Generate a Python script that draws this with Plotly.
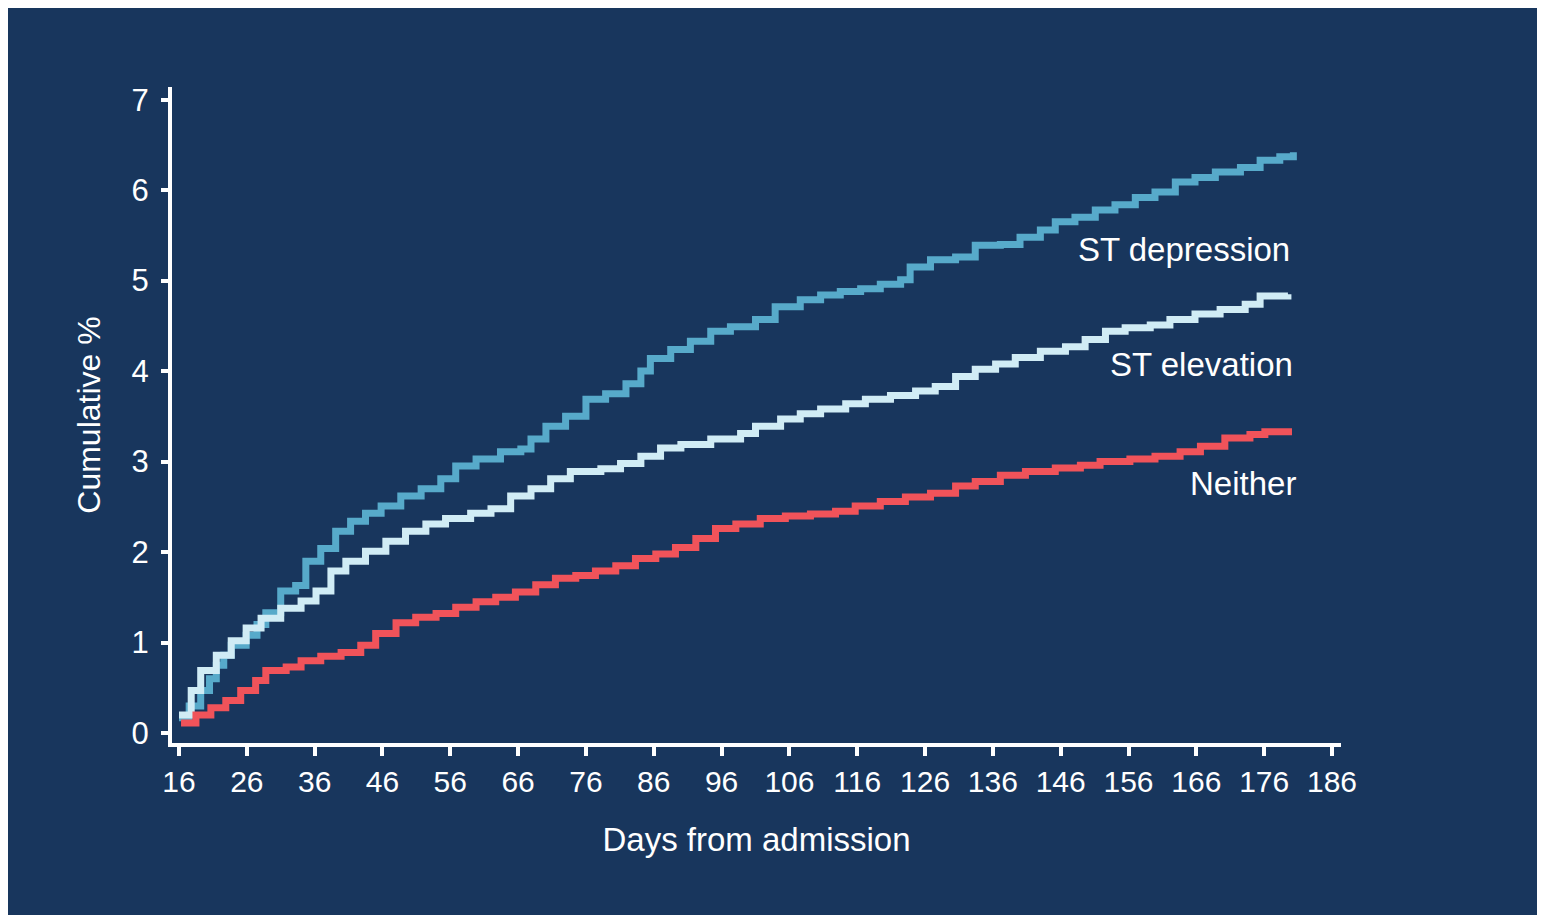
import plotly.graph_objects as go

# ---- data ----
dep_days = [16, 17.5, 19.2, 20.5, 21.5, 22.6, 23.7, 25.9, 27.5, 28.8, 31, 33.2, 34.7, 36.9, 39.1, 41.3, 43.5, 45.8,
            48.7, 51.7, 54.6, 56.8, 59.8, 63.4, 66.4, 67.9, 70.1, 73.0, 76, 78.9, 81.9, 84.1, 85.5, 88.5,
            91.4, 94.4, 97.3, 101, 103.9, 107.6, 110.6, 113.5, 116.5, 119.4, 122.4, 123.8, 126.8, 130.5,
            133.4, 137.1, 140, 143, 145.2, 148.1, 151.1, 154, 157, 159.9, 162.9, 165.8, 168.8, 172.5,
            175.4, 178.3, 180.3]
dep_vals = [0.17, 0.3, 0.47, 0.6, 0.75, 0.86, 0.97, 1.08, 1.2, 1.33, 1.57, 1.63, 1.9, 2.04, 2.23, 2.34, 2.43, 2.51,
            2.62, 2.70, 2.81, 2.95, 3.03, 3.11, 3.14, 3.25, 3.39, 3.50, 3.69, 3.75, 3.86, 4.0, 4.14, 4.24,
            4.33, 4.44, 4.49, 4.57, 4.71, 4.79, 4.84, 4.88, 4.91, 4.96, 5.01, 5.15, 5.23, 5.26,
            5.39, 5.40, 5.48, 5.56, 5.65, 5.70, 5.78, 5.84, 5.92, 5.98, 6.09, 6.14, 6.20, 6.25,
            6.33, 6.37, 6.42]

elev_days = [16, 17.8, 19.2, 21.5, 23.7, 25.9, 28.1, 31, 34, 36.2, 38.4, 40.6, 43.5, 46.5, 49.4, 52.4, 55.3,
             59, 62, 64.9, 67.9, 70.8, 73.7, 78.2, 81.1, 84.1, 87, 90, 94.4, 98.8, 101, 104.7, 107.6,
             110.6, 114.3, 117.2, 120.9, 124.6, 127.5, 130.5, 133.4, 136.4, 139.3, 143, 146.7, 149.6,
             152.6, 155.5, 159.2, 162.1, 165.8, 169.5, 173.2, 175.4, 179.5]
elev_vals = [0.2, 0.47, 0.69, 0.86, 1.02, 1.16, 1.27, 1.38, 1.46, 1.57, 1.79, 1.90, 2.01, 2.12, 2.23, 2.31, 2.37,
             2.43, 2.48, 2.62, 2.70, 2.81, 2.89, 2.92, 2.98, 3.06, 3.15, 3.19, 3.25, 3.31, 3.39, 3.47, 3.53,
             3.58, 3.64, 3.69, 3.73, 3.78, 3.83, 3.94, 4.02, 4.08, 4.15, 4.22, 4.27, 4.35,
             4.44, 4.48, 4.51, 4.57, 4.63, 4.68, 4.74, 4.83, 4.85]

neither_days = [16.3, 18.5, 20.7, 22.9, 25.1, 27.3, 28.8, 31.8, 34, 36.9, 39.9, 42.8, 45, 48, 50.9, 53.9,
                56.8, 59.8, 62.7, 65.6, 68.6, 71.5, 74.5, 77.4, 80.4, 83.3, 86.3, 89.2, 92.2, 95.1, 98.1,
                101.7, 105.4, 109.1, 112.8, 115.7, 119.4, 123.1, 126.8, 130.5, 133.4, 137.1, 140.8, 145.2,
                148.9, 151.8, 156.2, 159.9, 163.6, 166.6, 170.2, 173.9, 176.1, 180.1]
neither_vals = [0.11, 0.2, 0.28, 0.36, 0.47, 0.58, 0.69, 0.73, 0.80, 0.85, 0.89, 0.97, 1.10, 1.22, 1.28, 1.32,
                1.39, 1.45, 1.50, 1.56, 1.64, 1.71, 1.74, 1.79, 1.85, 1.93, 1.98, 2.05, 2.15, 2.26, 2.31,
                2.37, 2.40, 2.42, 2.45, 2.51, 2.56, 2.61, 2.65, 2.73, 2.78, 2.85, 2.89, 2.93,
                2.96, 3.00, 3.03, 3.06, 3.11, 3.17, 3.26, 3.30, 3.33, 3.33]

x_ticks = list(range(16, 187, 10))
y_ticks = [0, 1, 2, 3, 4, 5, 6, 7]

labels = ["ST depression", "ST elevation", "Neither"]
label_pos = [(180.1, 5.34), (180.6, 4.07), (181.0, 2.76)]

# ---- style ----
NAVY = "rgb(24,54,93)"
FONT = "Liberation Sans, Arial, sans-serif"
colors = ["#57aaca", "#d0ecf5", "#f0535a"]

fig = go.Figure()
for days, vals, col, name in [(dep_days, dep_vals, colors[0], labels[0]),
                              (elev_days, elev_vals, colors[1], labels[1]),
                              (neither_days, neither_vals, colors[2], labels[2])]:
    fig.add_trace(go.Scatter(x=days, y=vals, mode="lines", name=name,
                             line=dict(color=col, width=7, shape="hv"),
                             showlegend=False, hoverinfo="skip"))

for text, (xv, yv) in zip(labels, label_pos):
    fig.add_annotation(x=xv, y=yv, xref="x", yref="y", text=text, showarrow=False,
                       xanchor="right", yanchor="middle",
                       font=dict(family=FONT, size=33, color="white"))

fig.update_layout(
    width=1537, height=907,
    paper_bgcolor=NAVY, plot_bgcolor=NAVY,
    margin=dict(l=164, r=204, t=79, b=172, autoexpand=False),
    font=dict(family=FONT, color="white"),
    xaxis=dict(range=[16 - 7 / 6.788, 186 + 9 / 6.788], tickmode="array", tickvals=x_ticks,
               ticktext=[str(t) for t in x_ticks],
               showgrid=False, zeroline=False, showline=True, linecolor="white", linewidth=4,
               ticks="outside", ticklen=9, tickwidth=4, tickcolor="white",
               tickfont=dict(family=FONT, size=30, color="white"),
               title=dict(text="Days from admission", font=dict(family=FONT, size=33, color="white"),
                          standoff=32),
               automargin=False),
    yaxis=dict(range=[-0.11, 7.14], tickmode="array", tickvals=y_ticks,
               showgrid=False, zeroline=False, showline=True, linecolor="white", linewidth=4,
               ticks="outside", ticklen=7, tickwidth=4, tickcolor="white",
               tickfont=dict(family=FONT, size=31, color="white"),
               ticklabelstandoff=6,
               title=dict(text="Cumulative %", font=dict(family=FONT, size=32, color="white"),
                          standoff=22),
               automargin=False),
)

fig.write_html("out.html")
